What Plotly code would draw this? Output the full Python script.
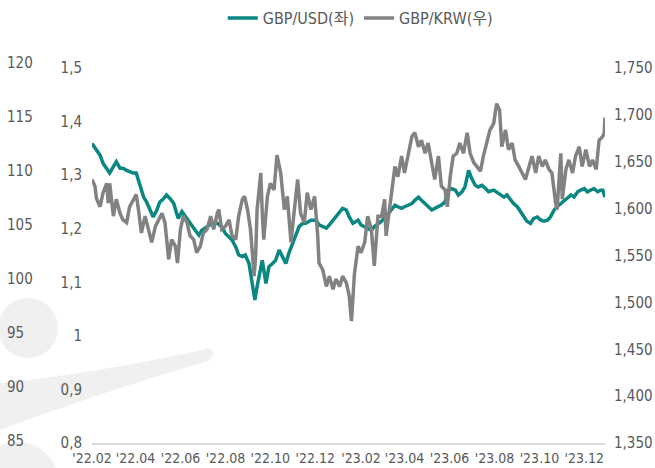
import plotly.graph_objects as go

W, H = 655, 468

# ---------------- data ----------------
usd_dates = [
    "2022-02-01", "2022-02-07", "2022-02-12", "2022-02-16", "2022-02-21", "2022-02-25",
    "2022-03-02", "2022-03-06", "2022-03-11", "2022-03-15", "2022-03-20", "2022-03-24",
    "2022-03-29", "2022-04-02", "2022-04-05", "2022-04-07", "2022-04-09", "2022-04-12",
    "2022-04-16", "2022-04-21", "2022-04-25", "2022-04-30", "2022-05-04", "2022-05-09",
    "2022-05-13", "2022-05-18", "2022-05-23", "2022-05-27", "2022-05-29", "2022-06-03",
    "2022-06-07", "2022-06-12", "2022-06-16", "2022-06-21", "2022-06-26", "2022-06-30",
    "2022-07-07", "2022-07-14", "2022-07-21", "2022-07-27", "2022-08-01", "2022-08-10",
    "2022-08-15", "2022-08-19", "2022-08-24", "2022-08-28", "2022-09-02", "2022-09-06",
    "2022-09-10", "2022-09-13", "2022-09-18", "2022-09-20", "2022-09-25", "2022-09-29",
    "2022-10-04", "2022-10-08", "2022-10-13", "2022-10-17", "2022-10-22", "2022-10-26",
    "2022-10-31", "2022-11-05", "2022-11-09", "2022-11-14", "2022-11-18", "2022-11-25",
    "2022-12-02", "2022-12-06", "2022-12-11", "2022-12-16", "2022-12-20", "2022-12-25",
    "2022-12-31", "2023-01-07", "2023-01-12", "2023-01-16", "2023-01-21", "2023-01-28",
    "2023-02-01", "2023-02-06", "2023-02-10", "2023-02-15", "2023-02-19", "2023-02-24",
    "2023-03-01", "2023-03-05", "2023-03-10", "2023-03-14", "2023-03-19", "2023-03-23",
    "2023-03-28", "2023-04-01", "2023-04-06", "2023-04-11", "2023-04-15", "2023-04-20",
    "2023-04-24", "2023-04-29", "2023-05-03", "2023-05-08", "2023-05-12", "2023-05-17",
    "2023-05-21", "2023-05-26", "2023-05-30", "2023-06-04", "2023-06-09", "2023-06-13",
    "2023-06-18", "2023-06-22", "2023-06-27", "2023-07-01", "2023-07-06", "2023-07-10",
    "2023-07-15", "2023-07-20", "2023-07-24", "2023-07-31", "2023-08-07", "2023-08-14",
    "2023-08-18", "2023-08-23", "2023-08-27", "2023-09-01", "2023-09-05", "2023-09-10",
    "2023-09-14", "2023-09-19", "2023-09-23", "2023-09-28", "2023-10-03", "2023-10-07",
    "2023-10-12", "2023-10-16", "2023-10-21", "2023-10-25", "2023-10-30", "2023-11-03",
    "2023-11-08", "2023-11-13", "2023-11-17", "2023-11-22", "2023-11-26", "2023-12-01",
    "2023-12-05", "2023-12-10", "2023-12-14", "2023-12-19", "2023-12-23", "2023-12-26",
    "2023-12-29",
]
gbp_usd = [
    1.359, 1.347, 1.337, 1.322, 1.313, 1.304,
    1.316, 1.325, 1.313, 1.313, 1.309, 1.306,
    1.304, 1.304, 1.291, 1.278, 1.269, 1.259,
    1.250, 1.235, 1.222, 1.235, 1.250, 1.256,
    1.263, 1.256, 1.247, 1.228, 1.219, 1.232,
    1.225, 1.216, 1.207, 1.197, 1.188, 1.197,
    1.204, 1.210, 1.210, 1.204, 1.191, 1.179,
    1.166, 1.151, 1.148, 1.151, 1.135, 1.104,
    1.067, 1.092, 1.123, 1.141, 1.098, 1.129,
    1.135, 1.141, 1.160, 1.148, 1.135, 1.154,
    1.173, 1.191, 1.204, 1.210, 1.210, 1.216,
    1.216, 1.207, 1.204, 1.201, 1.207, 1.216,
    1.228, 1.238, 1.235, 1.222, 1.210, 1.216,
    1.207, 1.204, 1.201, 1.197, 1.204, 1.210,
    1.214, 1.222, 1.228, 1.235, 1.244, 1.241,
    1.238, 1.241, 1.244, 1.247, 1.253, 1.259,
    1.253, 1.247, 1.241, 1.235, 1.238, 1.241,
    1.244, 1.250, 1.272, 1.275, 1.272, 1.263,
    1.269, 1.278, 1.309, 1.294, 1.281, 1.278,
    1.281, 1.275, 1.269, 1.272, 1.266, 1.259,
    1.263, 1.253, 1.247, 1.241, 1.232, 1.222,
    1.214, 1.210, 1.219, 1.222, 1.216, 1.214,
    1.216, 1.222, 1.235, 1.241, 1.247, 1.253,
    1.259, 1.263, 1.259, 1.269, 1.272, 1.275,
    1.269, 1.272, 1.275, 1.269, 1.272, 1.272,
    1.259,
]

krw_dates = [
    "2022-02-01", "2022-02-05", "2022-02-07", "2022-02-12", "2022-02-16", "2022-02-21",
    "2022-02-23", "2022-02-25", "2022-02-27", "2022-03-02", "2022-03-06", "2022-03-11",
    "2022-03-15", "2022-03-20", "2022-03-24", "2022-03-29", "2022-04-02", "2022-04-05",
    "2022-04-09", "2022-04-14", "2022-04-18", "2022-04-23", "2022-04-28", "2022-05-02",
    "2022-05-07", "2022-05-11", "2022-05-16", "2022-05-20", "2022-05-25", "2022-05-28",
    "2022-06-01", "2022-06-05", "2022-06-10", "2022-06-14", "2022-06-19", "2022-06-23",
    "2022-06-28", "2022-07-02", "2022-07-07", "2022-07-12", "2022-07-16", "2022-07-21",
    "2022-07-23", "2022-07-27", "2022-08-01", "2022-08-06", "2022-08-10", "2022-08-15",
    "2022-08-19", "2022-08-24", "2022-08-27", "2022-08-31", "2022-09-04", "2022-09-09",
    "2022-09-11", "2022-09-13", "2022-09-18", "2022-09-20", "2022-09-22", "2022-09-27",
    "2022-10-01", "2022-10-06", "2022-10-10", "2022-10-15", "2022-10-20", "2022-10-24",
    "2022-10-29", "2022-11-02", "2022-11-07", "2022-11-11", "2022-11-16", "2022-11-20",
    "2022-11-25", "2022-11-30", "2022-12-04", "2022-12-06", "2022-12-11", "2022-12-16",
    "2022-12-20", "2022-12-25", "2022-12-29", "2023-01-03", "2023-01-07", "2023-01-12",
    "2023-01-16", "2023-01-19", "2023-01-23", "2023-01-28", "2023-02-01", "2023-02-06",
    "2023-02-10", "2023-02-15", "2023-02-19", "2023-02-24", "2023-03-01", "2023-03-05",
    "2023-03-07", "2023-03-12", "2023-03-16", "2023-03-19", "2023-03-23", "2023-03-28",
    "2023-04-01", "2023-04-06", "2023-04-11", "2023-04-15", "2023-04-20", "2023-04-24",
    "2023-04-29", "2023-05-03", "2023-05-08", "2023-05-12", "2023-05-17", "2023-05-21",
    "2023-05-26", "2023-05-29", "2023-06-02", "2023-06-06", "2023-06-11", "2023-06-15",
    "2023-06-20", "2023-06-25", "2023-06-29", "2023-07-04", "2023-07-08", "2023-07-13",
    "2023-07-17", "2023-07-22", "2023-07-26", "2023-07-31", "2023-08-04", "2023-08-08",
    "2023-08-11", "2023-08-16", "2023-08-20", "2023-08-25", "2023-08-29", "2023-09-03",
    "2023-09-08", "2023-09-12", "2023-09-17", "2023-09-21", "2023-09-26", "2023-09-30",
    "2023-10-05", "2023-10-09", "2023-10-14", "2023-10-18", "2023-10-23", "2023-10-25",
    "2023-10-30", "2023-11-01", "2023-11-06", "2023-11-10", "2023-11-15", "2023-11-19",
    "2023-11-24", "2023-11-28", "2023-12-03", "2023-12-08", "2023-12-12", "2023-12-17",
    "2023-12-21", "2023-12-26", "2023-12-28", "2023-12-29",
]
gbp_krw = [
    1631, 1624, 1611, 1602, 1617, 1627,
    1606, 1627, 1613, 1592, 1610, 1595,
    1588, 1585, 1602, 1610, 1615, 1599,
    1574, 1592, 1581, 1564, 1581, 1588,
    1595, 1585, 1546, 1567, 1560, 1542,
    1578, 1592, 1585, 1571, 1567, 1553,
    1560, 1574, 1578, 1592, 1578, 1595,
    1599, 1578, 1581, 1588, 1571, 1567,
    1592, 1610, 1613, 1599, 1578, 1528,
    1549, 1599, 1638, 1595, 1567, 1613,
    1627, 1620, 1657, 1638, 1599, 1613,
    1564, 1595, 1631, 1595, 1585, 1617,
    1599, 1613, 1574, 1542, 1535, 1517,
    1528, 1514, 1525, 1517, 1528, 1521,
    1507, 1480, 1530, 1560, 1553, 1564,
    1592, 1578, 1539, 1592, 1592, 1610,
    1571, 1602, 1624, 1645, 1634, 1656,
    1638, 1656, 1677, 1681, 1666, 1673,
    1659, 1670, 1645, 1631, 1656, 1624,
    1620, 1602, 1634, 1656, 1659, 1670,
    1659, 1681, 1659, 1649, 1645, 1640,
    1656, 1670, 1684, 1691, 1712, 1705,
    1666, 1684, 1663, 1670, 1652, 1645,
    1638, 1631, 1645, 1656, 1638, 1656,
    1645, 1652, 1642, 1638, 1606, 1599,
    1659, 1610, 1642, 1652, 1638, 1656,
    1666, 1645, 1663, 1645, 1652, 1642,
    1673, 1677, 1681, 1697,
]

left_ticks = [0.8, 0.9, 1.0, 1.1, 1.2, 1.3, 1.4, 1.5]
left_labels = ["0,8", "0,9", "1", "1,1", "1,2", "1,3", "1,4", "1,5"]
right_ticks = [1350, 1400, 1450, 1500, 1550, 1600, 1650, 1700, 1750]
extra_ticks = [85, 90, 95, 100, 105, 110, 115, 120]
month_ticks = ["2022-02-01", "2022-04-01", "2022-06-01", "2022-08-01", "2022-10-01",
               "2022-12-01", "2023-02-01", "2023-04-01", "2023-06-01", "2023-08-01",
               "2023-10-01", "2023-12-01"]
month_labels = ["'22.02", "'22.04", "'22.06", "'22.08", "'22.10", "'22.12",
                "'23.02", "'23.04", "'23.06", "'23.08", "'23.10", "'23.12"]

# ---------------- style ----------------
TEAL = "#0a8782"
GREY = "#828282"
TXT = "#595959"
FONT = "DejaVu Sans Condensed, Liberation Sans Narrow, Noto Sans CJK KR, sans-serif"


def px(x, y):
    return x / W, 1 - y / H


fig = go.Figure()
fig.add_trace(go.Scatter(x=usd_dates, y=gbp_usd, name="GBP/USD(좌)", mode="lines",
                         line=dict(color=TEAL, width=3.5), yaxis="y"))
fig.add_trace(go.Scatter(x=krw_dates, y=gbp_krw, name="GBP/KRW(우)", mode="lines",
                         line=dict(color=GREY, width=3.5), yaxis="y2"))
fig.add_trace(go.Scatter(x=[], y=[], yaxis="y3", showlegend=False, hoverinfo="skip"))

# decorative watermark
wm = "#f0f0f0"
cx0, cy0 = px(-2, 298)
cx1, cy1 = px(58, 358)
fig.add_shape(type="circle", xref="paper", yref="paper", x0=cx0, y0=cy1, x1=cx1, y1=cy0,
              fillcolor=wm, line=dict(width=0), layer="below")
bx0, by0 = px(-25, 442)
bx1, by1 = px(60, 530)
fig.add_shape(type="circle", xref="paper", yref="paper", x0=bx0, y0=by1, x1=bx1, y1=by0,
              fillcolor=wm, line=dict(width=0), layer="below")
pts = [(0, 383), (70, 376), (150, 362), (205, 349), (216, 346), (216, 358), (205, 362),
       (150, 378), (80, 400), (0, 430)]
P = [px(a, b) for a, b in pts]
path = (f"M{P[0][0]},{P[0][1]} C{P[1][0]},{P[1][1]} {P[2][0]},{P[2][1]} {P[3][0]},{P[3][1]} "
        f"C{P[4][0]},{P[4][1]} {P[5][0]},{P[5][1]} {P[6][0]},{P[6][1]} "
        f"C{P[7][0]},{P[7][1]} {P[8][0]},{P[8][1]} {P[9][0]},{P[9][1]} Z")
fig.add_shape(type="path", xref="paper", yref="paper", path=path,
              fillcolor=wm, line=dict(width=0), layer="below")

dom_y = [25 / H, 1 - 68 / H]
tickfont = dict(family=FONT, size=15, color=TXT)

fig.update_layout(
    width=W, height=H, autosize=False,
    margin=dict(l=0, r=0, t=0, b=0, autoexpand=False),
    paper_bgcolor="white", plot_bgcolor="rgba(0,0,0,0)",
    font=dict(family=FONT, size=15, color=TXT),
    showlegend=True,
    legend=dict(orientation="h", xref="paper", yref="paper",
                x=0.55, xanchor="center", y=1 - 18 / H, yanchor="middle",
                font=dict(family=FONT, size=16, color=TXT),
                bgcolor="rgba(0,0,0,0)", itemwidth=30),
    xaxis=dict(type="date", domain=[92 / W, 605 / W],
               range=["2022-02-01", "2023-12-29"],
               showgrid=False, zeroline=False, automargin=False,
               showline=True, linecolor="#d9d9d9", linewidth=1.5,
               ticks="", tickvals=month_ticks, ticktext=month_labels, tickangle=0,
               tickfont=dict(family=FONT, size=14, color=TXT),
               ticklabelstandoff=1, anchor="y"),
    yaxis=dict(domain=dom_y, range=[0.8, 1.5], tickvals=left_ticks, ticktext=left_labels,
               showgrid=False, zeroline=False, showline=False, ticks="", automargin=False,
               tickfont=tickfont, ticklabelstandoff=9, anchor="x"),
    yaxis2=dict(overlaying="y", side="right", range=[1350, 1750], tickvals=right_ticks,
                tickformat=",d", showgrid=False, zeroline=False, showline=False, ticks="",
                automargin=False, tickfont=tickfont, ticklabelstandoff=8, anchor="x"),
    yaxis3=dict(domain=[1 - 441 / H, 1 - 63 / H], range=[85, 120], tickvals=extra_ticks,
                anchor="free", position=0.0, side="right", automargin=False,
                showgrid=False, zeroline=False, showline=False, ticks="",
                tickfont=tickfont, ticklabelstandoff=6),
)

fig.write_html("out.html")
